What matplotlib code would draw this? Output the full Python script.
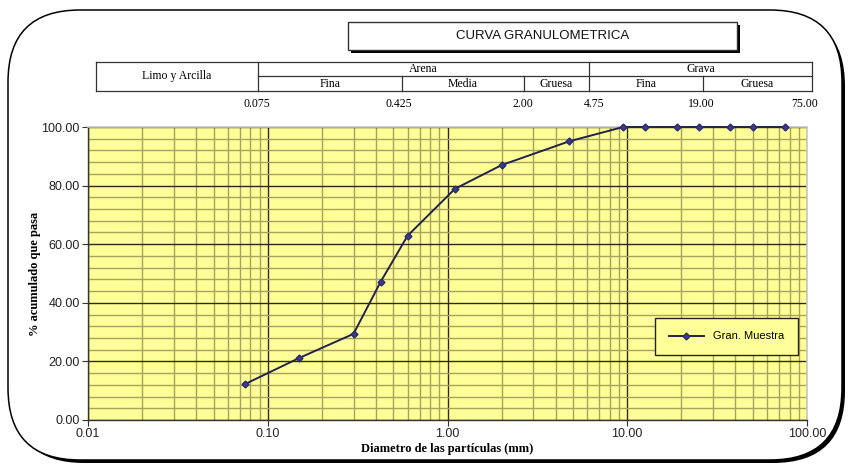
import matplotlib
matplotlib.use("Agg")
import matplotlib.pyplot as plt
from matplotlib.patches import FancyBboxPatch, Rectangle
from matplotlib.ticker import FixedLocator, MultipleLocator, FuncFormatter, NullFormatter
import numpy as np

# ---- data ----
sizes_mm = [75, 50, 37.5, 25, 19, 12.5, 9.5, 4.75, 2.0, 1.10, 0.60, 0.425, 0.30, 0.15, 0.075]
passing = [100, 100, 100, 100, 100, 100, 100, 95.1, 87.0, 78.9, 62.9, 47.2, 29.4, 21.2, 12.3]
series_name = "Gran. Muestra"
title = "CURVA GRANULOMETRICA"
x_label = "Diametro de las partículas (mm)"
y_label = "% acumulado que pasa"
x_ticks = [0.01, 0.1, 1, 10, 100]
y_ticks = [0, 20, 40, 60, 80, 100]
header_top = ["Limo y Arcilla", "Arena", "Grava"]
header_sub = ["Fina", "Media", "Gruesa", "Fina", "Gruesa"]
header_limits = ["0.075", "0.425", "2.00", "4.75", "19.00", "75.00"]

W, H = 849, 467
fig = plt.figure(figsize=(W / 100, H / 100), dpi=100)
fig.patch.set_facecolor("white")

# ---- decoration overlay in pixel coordinates ----
deco = fig.add_axes([0, 0, 1, 1], zorder=0)
deco.set_xlim(0, W)
deco.set_ylim(H, 0)
deco.axis("off")

# rounded border with shadow
shadow = FancyBboxPatch((12, 14), 833, 449, boxstyle="round,pad=0,rounding_size=72",
                        fc="black", ec="none", lw=0)
deco.add_patch(shadow)
border = FancyBboxPatch((8, 10), 834, 450, boxstyle="round,pad=0,rounding_size=72",
                        fc="white", ec="black", lw=1.1)
deco.add_patch(border)

# title box with shadow
deco.add_patch(Rectangle((351, 25), 389, 28, fc="black", ec="black", lw=0))
deco.add_patch(Rectangle((348, 22), 389, 28, fc="white", ec="#333333", lw=1.0))
deco.text(543, 36, title, ha="center", va="center", fontsize=9.5,
          family="Liberation Sans", color="#111111")

# header table
xl, xr = 96, 812
ytop, ymid, ybot = 62, 76, 91
c_limo, c_arena, c_grava = 258, 589, 812
sub_div = [258, 402, 524, 589, 703, 812]
lc = "#333333"
lw = 0.9
deco.plot([xl, xr], [ytop, ytop], color=lc, lw=lw)
deco.plot([xl, xr], [ybot, ybot], color=lc, lw=lw)
deco.plot([c_limo, xr], [ymid, ymid], color=lc, lw=lw)
for xv in [xl, c_limo, c_arena, xr]:
    deco.plot([xv, xv], [ytop, ybot], color=lc, lw=lw)
for xv in [402, 524, 703]:
    deco.plot([xv, xv], [ymid, ybot], color=lc, lw=lw)
serif = "Liberation Serif"
deco.text((xl + c_limo) / 2, (ytop + ybot) / 2, header_top[0], ha="center", va="center",
          fontsize=8.5, family=serif)
deco.text((c_limo + c_arena) / 2, (ytop + ymid) / 2 + 0.5, header_top[1], ha="center", va="center",
          fontsize=8.5, family=serif)
deco.text((c_arena + c_grava) / 2, (ytop + ymid) / 2 + 0.5, header_top[2], ha="center", va="center",
          fontsize=8.5, family=serif)
for i, s in enumerate(header_sub):
    deco.text((sub_div[i] + sub_div[i + 1]) / 2, (ymid + ybot) / 2 + 0.5, s, ha="center",
              va="center", fontsize=8.5, family=serif)
lim_x = [257, 399, 523, 594, 701, 805]
for xv, s in zip(lim_x, header_limits):
    deco.text(xv, 104, s, ha="center", va="center", fontsize=8.5, family=serif)

# ---- main chart ----
ax = fig.add_axes([88 / W, (H - 420) / H, 719 / W, 293 / H], zorder=2)
ax.set_facecolor("#FFFF99")
ax.set_xscale("log")
ax.set_xlim(0.01, 100)
ax.set_ylim(0, 100)

ax.xaxis.set_major_locator(FixedLocator(x_ticks))
ax.xaxis.set_major_formatter(FuncFormatter(lambda v, p: f"{v:.2f}"))
minor_x = [m * 10.0 ** e for e in range(-2, 2) for m in range(2, 10)]
ax.xaxis.set_minor_locator(FixedLocator(minor_x))
ax.xaxis.set_minor_formatter(NullFormatter())
ax.yaxis.set_major_locator(FixedLocator(y_ticks))
ax.yaxis.set_minor_locator(MultipleLocator(4))
ax.yaxis.set_major_formatter(FuncFormatter(lambda v, p: f"{v:.2f}"))

ax.grid(which="minor", color="#A8A25C", lw=1.0)
ax.grid(which="major", color="#2E2A10", lw=1.0)
ax.set_axisbelow(True)

ax.tick_params(which="minor", length=0)
ax.tick_params(which="major", length=4, direction="out", color="#333333",
               labelsize=9, pad=2)
for lab in ax.get_xticklabels() + ax.get_yticklabels():
    lab.set_family("Liberation Sans")
    lab.set_color("#222222")

for side in ["top", "right"]:
    ax.spines[side].set_color("#C8C8C8")
    ax.spines[side].set_linewidth(1.2)
for side in ["left", "bottom"]:
    ax.spines[side].set_color("#333333")
    ax.spines[side].set_linewidth(1.0)

ax.plot(sizes_mm, passing, color="#22224A", lw=1.4, marker="D", markersize=3.5,
        markerfacecolor="#3A3A8C", markeredgecolor="#2A2A70", label=series_name, zorder=5,
        clip_on=False)

ax.set_xlabel(x_label, family=serif, fontweight="bold", fontsize=9, labelpad=2)
ax.set_ylabel(y_label, family=serif, fontweight="bold", fontsize=9, labelpad=0)

leg = ax.legend(loc="center", bbox_to_anchor=(0.888, 0.285), frameon=True, fancybox=False,
                prop={"family": "Liberation Sans", "size": 8}, numpoints=1,
                handlelength=3.2, borderpad=1.2, borderaxespad=0)
leg.get_frame().set_facecolor("#FFFF99")
leg.get_frame().set_edgecolor("#222222")
leg.get_frame().set_linewidth(1.0)
leg.get_frame().set_alpha(1)

fig.savefig("out.png", dpi=100)
